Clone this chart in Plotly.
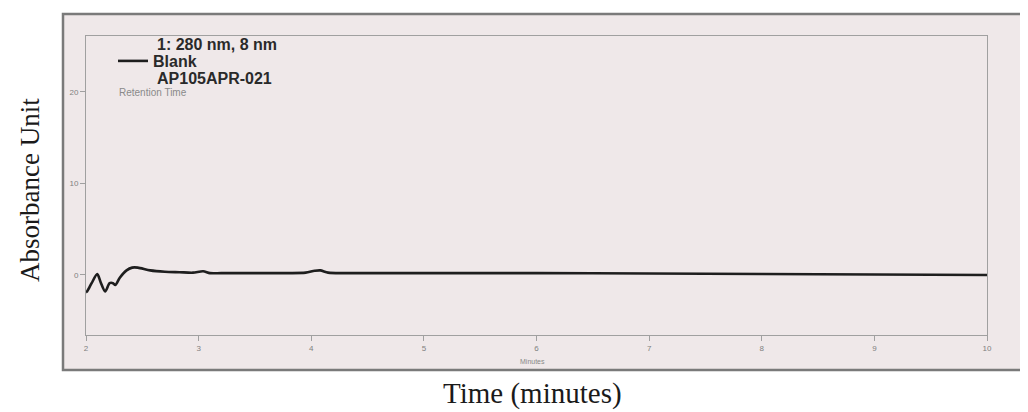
import plotly.graph_objects as go

# Retention time (minutes) and absorbance
time_min = [2.00, 2.01, 2.05, 2.10, 2.13, 2.17, 2.21, 2.24, 2.26, 2.30, 2.36, 2.41, 2.46,
            2.57, 2.70, 2.83, 2.95, 3.04, 3.10, 3.20, 3.50, 3.80, 3.95, 4.03, 4.08,
            4.15, 4.30, 5.00, 6.00, 7.00, 8.00, 9.00, 10.00]
absorbance = [-1.9, -1.8, -0.9, 0.1, -0.8, -1.8, -0.9, -0.9, -1.1, -0.3, 0.5, 0.8, 0.8,
              0.5, 0.35, 0.3, 0.25, 0.4, 0.2, 0.2, 0.2, 0.2, 0.25, 0.45, 0.5,
              0.25, 0.2, 0.2, 0.2, 0.15, 0.1, 0.05, 0.0]

x_ticks = [2, 3, 4, 5, 6, 7, 8, 9, 10]
y_ticks = [0, 10, 20]

OFF = 8  # page body margin
W, H = 1020, 404
L, T = 86 - OFF, 36 - OFF
pw, ph = 901, 299
R, B = W - L - pw, H - T - ph


def px(x):
    return (x - OFF - L) / pw


def py(y):
    return (H - B - (y - OFF)) / ph


fig = go.Figure()
fig.add_trace(go.Scatter(
    x=time_min, y=absorbance, mode="lines", name="<b>Blank</b>",
    line=dict(color="#1e1e1e", width=2.6, shape="spline", smoothing=0.8),
))

# photographed sheet background/frame
fig.add_shape(type="rect", xref="paper", yref="paper",
              x0=px(63), x1=px(1040), y0=py(370), y1=py(14),
              fillcolor="#efe8e9", line=dict(color="#7a7a7a", width=2.5), layer="below")

ann = [
    dict(text="1: 280 nm, 8 nm", x=px(155), y=py(45), size=16, color="#2a2a2a", bold=True),
    dict(text="AP105APR-021", x=px(155), y=py(78), size=16, color="#2a2a2a", bold=True),
    dict(text="Retention Time", x=px(117), y=py(92), size=10, color="#8a8a8a", bold=False),
]
for a in ann:
    t = "<b>%s</b>" % a["text"] if a["bold"] else a["text"]
    fig.add_annotation(text=t, x=a["x"], y=a["y"], xref="paper", yref="paper",
                       xanchor="left", yanchor="middle", showarrow=False,
                       font=dict(family="Liberation Sans", size=a["size"], color=a["color"]))

fig.add_annotation(text="Minutes", x=px(532), y=py(361), xref="paper", yref="paper",
                   xanchor="center", yanchor="middle", showarrow=False,
                   font=dict(family="Liberation Sans", size=7, color="#888"))
fig.add_annotation(text="Time (minutes)", x=px(532), y=py(393), xref="paper", yref="paper",
                   xanchor="center", yanchor="middle", showarrow=False,
                   font=dict(family="Liberation Serif", size=29, color="#1a1a1a"))
fig.add_annotation(text="Absorbance Unit", x=px(30), y=py(190), xref="paper", yref="paper",
                   xanchor="center", yanchor="middle", textangle=-90, showarrow=False,
                   font=dict(family="Liberation Serif", size=27, color="#1a1a1a"))

axis_common = dict(showgrid=False, zeroline=False, showline=True, linecolor="#a0a0a0",
                   linewidth=1, mirror=True, ticks="outside", ticklen=5, tickcolor="#a0a0a0",
                   tickfont=dict(family="Liberation Sans", size=8, color="#808080"))

fig.update_layout(
    width=W, height=H,
    margin=dict(l=L, r=R, t=T, b=B),
    paper_bgcolor="white", plot_bgcolor="rgba(0,0,0,0)",
    showlegend=True,
    legend=dict(x=px(113), y=py(61), xanchor="left", yanchor="middle",
                bgcolor="rgba(0,0,0,0)", borderwidth=0,
                font=dict(family="Liberation Sans", size=16, color="#2a2a2a"),
                itemwidth=30),
    xaxis=dict(range=[2, 10], tickvals=x_ticks, **axis_common),
    yaxis=dict(range=[-6.56, 26.1], tickvals=y_ticks, **axis_common),
)

fig.write_html("out.html")
